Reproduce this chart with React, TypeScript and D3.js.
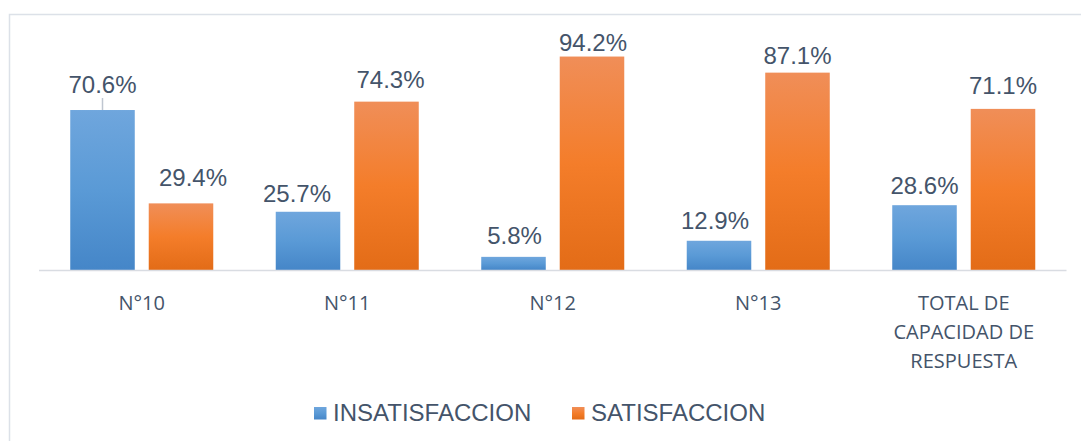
import React from "react";
import * as d3 from "d3";

const categories: string[][] = [["N°10"], ["N°11"], ["N°12"], ["N°13"], ["TOTAL DE", "CAPACIDAD DE", "RESPUESTA"]];
const seriesNames = ["INSATISFACCION", "SATISFACCION"];
const insatisfaccion = [70.6, 25.7, 5.8, 12.9, 28.6];
const satisfaccion = [29.4, 74.3, 94.2, 87.1, 71.1];
const yTicks = [0, 100];

// label nudges (style)
const nudgeDx = [[0, -11, 1, -4, 0], [12, 4, 1, 0, 0]];
const nudgeDy = [[-17, -10, -13, -12, -11], [-17, -14, -6, -9, -15]];

const W = 1081;
const H = 441;
const TEXT = "#44546A";

export default function App() {
  const catKeys = categories.map((c) => c.join(" "));
  const x0 = d3.scaleBand<string>().domain(catKeys).range([39, 1066.5]).padding(0);
  const x1 = d3
    .scaleBand<string>()
    .domain(seriesNames)
    .range([0, x0.bandwidth()])
    .paddingInner(0.178)
    .paddingOuter(0.398);
  const y = d3.scaleLinear().domain([yTicks[0], yTicks[1]]).range([270, 43.4]);
  const values = [insatisfaccion, satisfaccion];
  const fills = ["url(#gBlue)", "url(#gOrange)"];

  return (
    <svg
      width={W}
      height={H}
      style={{ position: "absolute", left: 0, top: 0, background: "#fff" }}
    >
      <defs>
        <linearGradient id="gBlue" x1="0" y1="0" x2="0" y2="1">
          <stop offset="0" stopColor="#6FA6DD" />
          <stop offset="0.5" stopColor="#5A9AD6" />
          <stop offset="1" stopColor="#4586C8" />
        </linearGradient>
        <linearGradient id="gOrange" x1="0" y1="0" x2="0" y2="1">
          <stop offset="0" stopColor="#F08E58" />
          <stop offset="0.5" stopColor="#F47D2A" />
          <stop offset="1" stopColor="#E36C17" />
        </linearGradient>
      </defs>
      <rect x={9.5} y={14.5} width={1200} height={600} fill="#fff" stroke="#DCE1E8" strokeWidth={1.5} />
      {values.map((vals, si) =>
        vals.map((v, ci) => {
          const bx = (x0(catKeys[ci]) || 0) + (x1(seriesNames[si]) || 0);
          const bw = x1.bandwidth();
          return (
            <rect
              key={`b${si}-${ci}`}
              x={bx}
              y={y(v)}
              width={bw}
              height={y(0) - y(v)}
              fill={fills[si]}
            />
          );
        })
      )}
      <line x1={39} x2={1066.5} y1={270.5} y2={270.5} stroke="#D9DCE2" strokeWidth={1.5} />
      {values.map((vals, si) =>
        vals.map((v, ci) => {
          const cx = (x0(catKeys[ci]) || 0) + (x1(seriesNames[si]) || 0) + x1.bandwidth() / 2;
          const ty = y(v) + nudgeDy[si][ci];
          return (
            <text
              key={`l${si}-${ci}`}
              x={cx + nudgeDx[si][ci]}
              y={ty}
              textAnchor="middle"
              fontFamily="'Liberation Sans', Arial, sans-serif"
              fontSize={24}
              fill={TEXT}
            >
              {v.toFixed(1)}%
            </text>
          );
        })
      )}
      {/* leader line for first label */}
      <line
        x1={(x0(catKeys[0]) || 0) + (x1(seriesNames[0]) || 0) + x1.bandwidth() / 2}
        x2={(x0(catKeys[0]) || 0) + (x1(seriesNames[0]) || 0) + x1.bandwidth() / 2}
        y1={y(insatisfaccion[0]) - 12}
        y2={y(insatisfaccion[0])}
        stroke="#BFC6D0"
        strokeWidth={1.5}
      />
      {categories.map((lines, ci) => (
        <text
          key={`c${ci}`}
          x={(x0(catKeys[ci]) || 0) + x0.bandwidth() / 2}
          y={309.5}
          textAnchor="middle"
          fontFamily="'Open Sans', sans-serif"
          fontSize={20}
          fill={TEXT}
        >
          {lines.map((ln, li) => (
            <tspan key={li} x={(x0(catKeys[ci]) || 0) + x0.bandwidth() / 2} dy={li === 0 ? 0 : 29}>
              {ln}
            </tspan>
          ))}
        </text>
      ))}
      {seriesNames.map((s, si) => {
        const lx = [314, 572][si];
        return (
          <g key={`lg${si}`}>
            <rect x={lx} y={407} width={12.5} height={12.5} fill={fills[si]} />
            <text
              x={lx + 19}
              y={420.5}
              fontFamily="'Liberation Sans', Arial, sans-serif"
              fontSize={24}
              fill={TEXT}
            >
              {s}
            </text>
          </g>
        );
      })}
    </svg>
  );
}
